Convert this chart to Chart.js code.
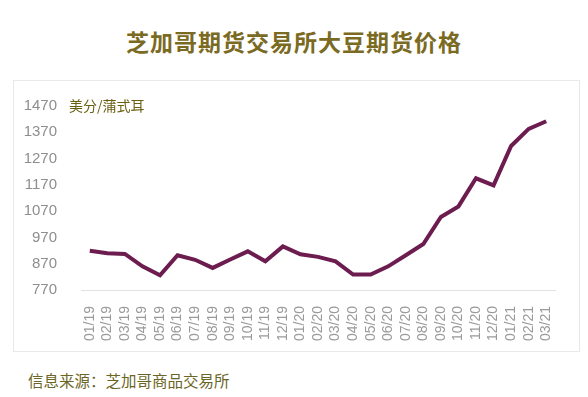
<!DOCTYPE html>
<html>
<head>
<meta charset="utf-8">
<script src="https://cdn.jsdelivr.net/npm/chart.js@4"></script>
<style>
  body { margin: 0; background: #fff; width: 588px; height: 397px; position: relative; overflow: hidden; }
  #title { position: absolute; left: 0; top: 24px; width: 588px; text-align: center;
           font: bold 23px "Noto Sans CJK SC", sans-serif; color: #7a6a22; letter-spacing: 1px; }
  #box { position: absolute; left: 13px; top: 80px; width: 565px; height: 270px; border: 1px solid #e8e8e8; }
  #source { position: absolute; left: 28px; top: 369px; font: 15.5px "Noto Sans CJK SC", sans-serif; color: #6b6526; }
</style>
</head>
<body>
<div id="title">芝加哥期货交易所大豆期货价格</div>
<div id="box"><canvas id="priceChart" width="565" height="270"></canvas></div>
<div id="source">信息来源：芝加哥商品交易所</div>
<script>
const months = ['01/19', '02/19', '03/19', '04/19', '05/19', '06/19', '07/19', '08/19', '09/19',
  '10/19', '11/19', '12/19', '01/20', '02/20', '03/20', '04/20', '05/20', '06/20', '07/20',
  '08/20', '09/20', '10/20', '11/20', '12/20', '01/21', '02/21', '03/21'];
const prices = [919, 910, 907, 860, 826, 902, 885, 854, 886, 917, 879, 936, 906, 896, 879,
  829, 829, 860, 902, 945, 1048, 1088, 1195, 1168, 1318, 1383, 1412];
const yTicks = [770, 870, 970, 1070, 1170, 1270, 1370, 1470];
const unitLabel = '美分/蒲式耳';

// unit text next to the top tick
const unitPlugin = {
  id: 'unitLabel',
  afterDraw(chart) {
    const y = chart.scales.y;
    const ctx = chart.ctx;
    ctx.save();
    ctx.font = '14px "Noto Sans CJK SC", sans-serif';
    ctx.fillStyle = '#6b5f14';
    ctx.textAlign = 'left';
    ctx.textBaseline = 'middle';
    ctx.fillText(unitLabel, y.right - 12, y.getPixelForValue(yTicks[yTicks.length - 1]));
    ctx.restore();
  }
};

const ctx = document.getElementById('priceChart').getContext('2d');
const priceChart = new Chart(ctx, {
  type: 'line',
  data: {
    labels: months,
    datasets: [{
      data: prices,
      borderColor: '#6c1c4f',
      borderWidth: 4,
      pointRadius: 0,
      tension: 0,
      fill: false
    }]
  },
  options: {
    responsive: false,
    animation: false,
    layout: { padding: { top: 22, right: 24, left: 0, bottom: 0 } },
    plugins: { legend: { display: false }, tooltip: { enabled: false } },
    scales: {
      x: {
        offset: true,
        grid: { display: false },
        border: { display: true, color: '#e2e2e2', width: 1 },
        ticks: {
          color: '#9a9a9a',
          font: { family: 'Liberation Sans', size: 14 },
          minRotation: 90,
          maxRotation: 90,
          autoSkip: false,
          padding: 8
        },
        afterFit(scale) { scale.height = 61; }
      },
      y: {
        min: 770,
        max: 1470,
        grid: { display: false },
        border: { display: false },
        afterBuildTicks(scale) { scale.ticks = yTicks.map(v => ({ value: v })); },
        ticks: {
          color: '#8e8e8e',
          font: { family: 'Liberation Sans', size: 15 },
          padding: 16,
          callback: v => String(v)
        },
        afterFit(scale) { scale.width = 67; }
      }
    }
  },
  plugins: [unitPlugin]
});
</script>
</body>
</html>
